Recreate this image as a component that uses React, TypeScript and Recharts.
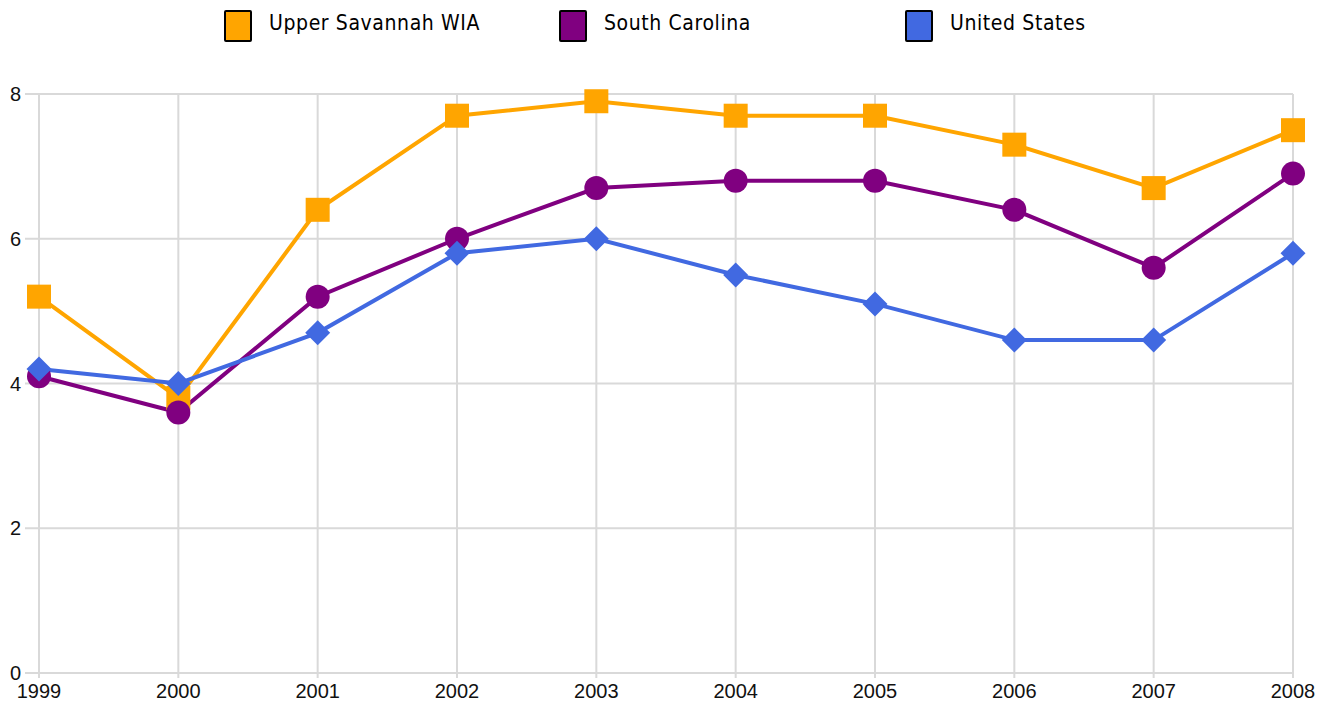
import React from "react";
import { LineChart, Line, XAxis, YAxis, CartesianGrid } from "recharts";

const years = ["1999", "2000", "2001", "2002", "2003", "2004", "2005", "2006", "2007", "2008"];
const upperSavannah = [5.2, 3.8, 6.4, 7.7, 7.9, 7.7, 7.7, 7.3, 6.7, 7.5];
const southCarolina = [4.1, 3.6, 5.2, 6.0, 6.7, 6.8, 6.8, 6.4, 5.6, 6.9];
const unitedStates = [4.2, 4.0, 4.7, 5.8, 6.0, 5.5, 5.1, 4.6, 4.6, 5.8];
const yTicks = [0, 2, 4, 6, 8];

const seriesNames = ["Upper Savannah WIA", "South Carolina", "United States"];
const seriesColors = ["#FFA500", "#800080", "#4169E1"];

const data = years.map((y, i) => ({
  year: y,
  usw: upperSavannah[i],
  sc: southCarolina[i],
  us: unitedStates[i],
}));

const SquareDot = (props: any) => {
  const { cx, cy, index } = props;
  if (cx == null || cy == null) return <g key={`s${index}`} />;
  return <rect key={`s${index}`} x={cx - 12} y={cy - 12} width={24} height={24} fill={seriesColors[0]} />;
};
const CircleDot = (props: any) => {
  const { cx, cy, index } = props;
  if (cx == null || cy == null) return <g key={`c${index}`} />;
  return <circle key={`c${index}`} cx={cx} cy={cy} r={12} fill={seriesColors[1]} />;
};
const DiamondDot = (props: any) => {
  const { cx, cy, index } = props;
  if (cx == null || cy == null) return <g key={`d${index}`} />;
  return (
    <path
      key={`d${index}`}
      d={`M${cx},${cy - 12.5} L${cx + 12.5},${cy} L${cx},${cy + 12.5} L${cx - 12.5},${cy} Z`}
      fill={seriesColors[2]}
    />
  );
};

const legendX = [216, 551, 897];

export default function App() {
  return (
    <div style={{ position: "relative", width: 1312, height: 701 }}>
      {seriesNames.map((name, i) => (
        <React.Fragment key={name}>
          <div
            style={{
              position: "absolute",
              left: legendX[i],
              top: 2,
              width: 24,
              height: 28,
              background: seriesColors[i],
              border: "2px solid #000",
              borderRadius: 2,
            }}
          />
          <div
            style={{
              position: "absolute",
              left: legendX[i] + 45,
              top: 3,
              lineHeight: "24px",
              whiteSpace: "nowrap",
              fontFamily: "'DejaVu Sans Condensed', 'DejaVu Sans', sans-serif",
              fontSize: 21,
              letterSpacing: 0.6,
              color: "#000",
            }}
          >
            {name}
          </div>
        </React.Fragment>
      ))}
      <LineChart
        width={1312}
        height={701}
        data={data}
        margin={{ top: 86, right: 27, bottom: 6, left: 0 }}
      >
        <CartesianGrid stroke="#d9d9d9" strokeWidth={2} />
        <XAxis
          dataKey="year"
          axisLine={{ stroke: "#d9d9d9", strokeWidth: 2 }}
          tickLine={{ stroke: "#d9d9d9", strokeWidth: 2 }}
          tickSize={5}
          tickMargin={6}
          height={30}
          interval={0}
          tick={{ fill: "#111", fontSize: 20, fontFamily: "'Liberation Sans', Arial, sans-serif" }}
        />
        <YAxis
          domain={[0, 8]}
          ticks={yTicks}
          width={31}
          axisLine={false}
          tickLine={{ stroke: "#d9d9d9", strokeWidth: 2 }}
          tickSize={14}
          tickMargin={4}
          tick={{ fill: "#111", fontSize: 20, fontFamily: "'Liberation Sans', Arial, sans-serif" }}
        />
        <Line
          dataKey="usw"
          name={seriesNames[0]}
          stroke={seriesColors[0]}
          strokeWidth={4}
          dot={SquareDot}
          activeDot={false}
          isAnimationActive={false}
        />
        <Line
          dataKey="sc"
          name={seriesNames[1]}
          stroke={seriesColors[1]}
          strokeWidth={4}
          dot={CircleDot}
          activeDot={false}
          isAnimationActive={false}
        />
        <Line
          dataKey="us"
          name={seriesNames[2]}
          stroke={seriesColors[2]}
          strokeWidth={4}
          dot={DiamondDot}
          activeDot={false}
          isAnimationActive={false}
        />
      </LineChart>
    </div>
  );
}
